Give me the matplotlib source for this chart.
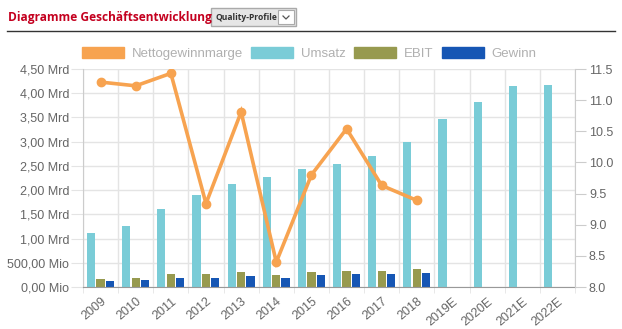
import matplotlib
matplotlib.use('Agg')
import matplotlib.pyplot as plt
import numpy as np
from matplotlib.patches import Patch, Rectangle
from matplotlib.lines import Line2D
from matplotlib.ticker import FixedLocator

# values (Mrd = billions)
years = ['2009', '2010', '2011', '2012', '2013', '2014', '2015', '2016',
         '2017', '2018', '2019E', '2020E', '2021E', '2022E']
umsatz = [1.12, 1.26, 1.60, 1.89, 2.12, 2.27, 2.43, 2.54, 2.71, 2.99,
          3.47, 3.82, 4.15, 4.17]
ebit = [0.16, 0.18, 0.26, 0.26, 0.31, 0.25, 0.30, 0.33, 0.32, 0.365]
gewinn = [0.13, 0.145, 0.19, 0.18, 0.23, 0.19, 0.24, 0.27, 0.26, 0.28]
marge = [11.29, 11.23, 11.43, 9.34, 10.81, 8.40, 9.80, 10.54, 9.63, 9.39]

left_ticks = [0, 0.5, 1.0, 1.5, 2.0, 2.5, 3.0, 3.5, 4.0, 4.5]
left_labels = ['0,00 Mio', '500,00 Mio', '1,00 Mrd', '1,50 Mrd', '2,00 Mrd',
               '2,50 Mrd', '3,00 Mrd', '3,50 Mrd', '4,00 Mrd', '4,50 Mrd']
right_ticks = [8.0, 8.5, 9.0, 9.5, 10.0, 10.5, 11.0, 11.5]

c_marge = '#f7a350'
c_umsatz = '#7accd7'
c_ebit = '#979a4f'
c_gewinn = '#1656b4'
c_tick = '#666666'
c_grid = '#e4e4e4'

plt.rcParams['font.family'] = ['Liberation Sans', 'DejaVu Sans']

W, H = 622, 329
fig = plt.figure(figsize=(W / 100, H / 100), dpi=100)

# main axes, placed in pixel units
x0, x1, ytop, ybot = 83, 575, 69, 287
ax = fig.add_axes([x0 / W, (H - ybot) / H, (x1 - x0) / W, (ybot - ytop) / H])

x = np.arange(len(years))
bw = 0.235
ax.bar(x - 0.27, umsatz, bw, color=c_umsatz, zorder=2)
ax.bar(x[:len(ebit)], ebit, bw, color=c_ebit, zorder=2)
ax.bar(x[:len(gewinn)] + 0.265, gewinn, bw, color=c_gewinn, zorder=2)

ax.set_xlim(-0.5, len(years) - 0.5)
ax.set_ylim(0, 4.5)
ax.set_yticks(left_ticks)
ax.set_yticklabels(left_labels)
ax.set_xticks(x)
ax.set_xticklabels(years, rotation=40, ha='right', rotation_mode='anchor')
ax.xaxis.set_minor_locator(FixedLocator(np.arange(-0.5, len(years), 1.0)))
ax.tick_params(axis='x', which='major', length=0, pad=6, labelsize=9, colors=c_tick)
ax.tick_params(axis='x', which='minor', length=4, color=c_grid)
ax.tick_params(axis='y', length=9, pad=1, labelsize=9, colors=c_tick, color=c_grid)
ax.grid(True, axis='y', color=c_grid, lw=1)
ax.grid(True, axis='x', which='minor', color=c_grid, lw=1)
ax.set_axisbelow(True)
for s in ['top', 'right']:
    ax.spines[s].set_visible(False)
ax.spines['left'].set_color('#cccccc')
ax.spines['bottom'].set_color('#999999')

ax2 = ax.twinx()
ax2.plot(x[:len(marge)], marge, color=c_marge, lw=2.6, marker='o', ms=6,
         zorder=3, solid_joinstyle='miter')
ax2.set_ylim(8.0, 11.5)
ax2.set_yticks(right_ticks)
ax2.set_yticklabels(['%.1f' % v for v in right_ticks])
ax2.tick_params(axis='y', length=8, pad=2, labelsize=9, colors=c_tick, color='#cccccc')
for s in ['top', 'left', 'bottom']:
    ax2.spines[s].set_visible(False)
ax2.spines['right'].set_color('#cccccc')

# legend
handles = [Patch(color=c_marge), Patch(color=c_umsatz),
           Patch(color=c_ebit), Patch(color=c_gewinn)]
fig.legend(handles, ['Nettogewinnmarge', 'Umsatz', 'EBIT', 'Gewinn'],
           loc='center', bbox_to_anchor=(309 / W, 1 - 53.5 / H), ncol=4,
           frameon=False, fontsize=9.5, labelcolor='#b0b0b0',
           handlelength=3.2, handleheight=0.85, handletextpad=0.55,
           columnspacing=0.65, borderpad=0)

# header
fig.text(8 / W, 1 - 17 / H, 'Diagramme Geschäftsentwicklung', color='#c4001f',
         fontsize=8.6, fontweight='bold', family='Open Sans', va='center')
fig.add_artist(Rectangle((211 / W, 1 - 26 / H), 85 / W, 18 / H,
                         transform=fig.transFigure, facecolor='#e6e6e6',
                         edgecolor='#aaaaaa', lw=1))
fig.add_artist(Rectangle((278 / W, 1 - 24 / H), 16 / W, 14 / H,
                         transform=fig.transFigure, facecolor='#ffffff',
                         edgecolor='#aaaaaa', lw=0.8))
fig.add_artist(Line2D([283 / W, 286 / W, 289 / W],
                      [1 - 16 / H, 1 - 19 / H, 1 - 16 / H],
                      transform=fig.transFigure, color='#555555', lw=0.9))
fig.text(215 / W, 1 - 17 / H, 'Quality-Profile', color='#333333',
         fontsize=6.1, fontweight='bold', family='Open Sans', va='center')
fig.add_artist(Line2D([7 / W, 615 / W], [1 - 31 / H, 1 - 31 / H],
                      transform=fig.transFigure, color='#333333', lw=1))

fig.savefig('out.png', dpi=100)
